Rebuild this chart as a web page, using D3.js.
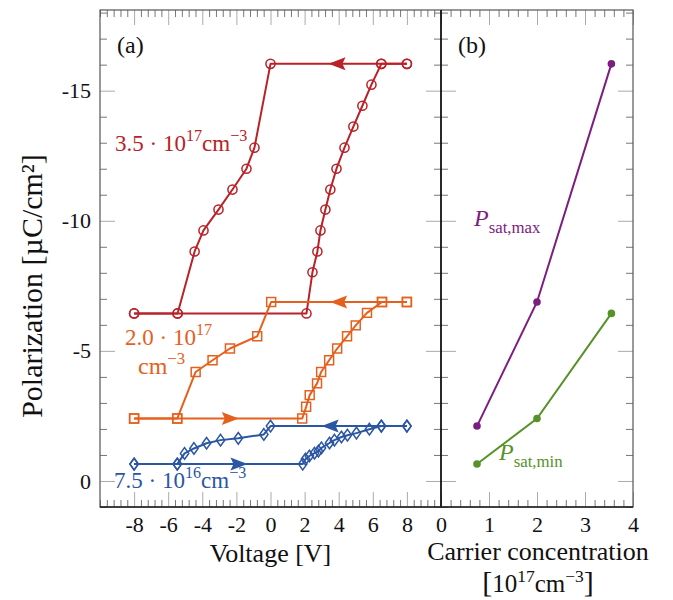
<!DOCTYPE html>
<html>
<head>
<meta charset="utf-8">
<script src="https://cdn.jsdelivr.net/npm/d3@7"></script>
<style>
  body { margin: 0; background: #fff; }
  svg text { font-family: "Liberation Serif", "DejaVu Serif", serif; }
</style>
</head>
<body>
<div class="container"></div>
<script>
const WIDTH = 673;
const HEIGHT = 600;

// ---- data ----
// 3.5e17 cm^-3 loop (circles)
const redUpV   = [-8, -5.45, 2.11, 2.46, 2.75, 2.93, 3.22, 3.51, 3.87, 4.34, 4.86, 5.39, 5.92, 6.5, 8];
const redUpP   = [-6.44, -6.44, -6.44, -8.02, -8.82, -9.63, -10.43, -11.2, -12.0, -12.81, -13.62, -14.42, -15.23, -16.03, -16.03];
const redDownV = [8, 6.5, 0, -0.94, -1.41, -2.23, -3.05, -3.93, -4.45, -5.45, -8];
const redDownP = [-16.03, -16.03, -16.03, -12.81, -12.0, -11.2, -10.43, -9.63, -8.82, -6.44, -6.44];

// 2.0e17 cm^-3 loop (squares)
const orangeUpV   = [-8, -5.47, 1.86, 2.09, 2.30, 2.73, 2.97, 3.44, 3.91, 4.49, 5.0, 5.66, 6.54, 8];
const orangeUpP   = [-2.40, -2.40, -2.40, -2.85, -3.30, -3.75, -4.19, -4.64, -5.09, -5.56, -5.98, -6.46, -6.88, -6.88];
const orangeDownV = [8, 6.54, 0.04, -0.78, -2.38, -3.4, -4.39, -5.47, -8];
const orangeDownP = [-6.88, -6.88, -6.88, -5.56, -5.09, -4.64, -4.19, -2.40, -2.40];

// 7.5e16 cm^-3 loop (diamonds)
const blueUpV   = [-8, -5.47, 1.89, 2.05, 2.28, 2.58, 2.81, 2.99, 3.46, 3.75, 4.16, 4.51, 5.04, 5.8, 6.5, 8];
const blueUpP   = [-0.65, -0.65, -0.65, -0.84, -0.96, -1.07, -1.15, -1.27, -1.46, -1.57, -1.69, -1.76, -1.84, -1.99, -2.11, -2.11];
const blueDownV = [8, 6.5, 0, -0.39, -1.89, -2.93, -3.75, -4.49, -5.04, -5.47, -8];
const blueDownP = [-2.11, -2.11, -2.11, -1.79, -1.64, -1.57, -1.45, -1.25, -1.06, -0.65, -0.65];

// direction arrows: tip voltage, polarization, direction
const arrowV   = [3.4, 3.5, 3.0, -1.86, -1.35];
const arrowP   = [-16.03, -6.88, -2.11, -2.40, -0.65];
const arrowDir = [-1, -1, -1, 1, 1];
const arrowSer = ["red", "orange", "blue", "orange", "blue"];

// panel (b)
const conc = [0.75, 2.0, 3.55];
const pSatMax = [-2.11, -6.88, -16.03];
const pSatMin = [-0.65, -2.40, -6.44];

// ticks
const voltTicks = [-8, -6, -4, -2, 0, 2, 4, 6, 8];
const concTicks = [0, 1, 2, 3, 4];
const polTicks = [0, -5, -10, -15];

const COLORS = { red: "#b82228", orange: "#e6601d", blue: "#2b56a3", purple: "#7d1d80", green: "#569228" };

// ---- layout ----
const LEFT = 100, MID = 441, RIGHT = 633, TOP = 10, BOTTOM = 507;

var translate = function(x, y){ return "translate(" + x + "," + y + ")"; };

var svg = d3.select('.container').append('svg')
  .attr('width', WIDTH).attr('height', HEIGHT);

var xV = d3.scaleLinear().domain([-10, 10]).range([LEFT, MID]);
var xC = d3.scaleLinear().domain([0, 4]).range([MID, RIGHT]);
var yP = d3.scaleLinear().domain([1, -18.1]).range([BOTTOM, TOP]);

var steps = function(a, b, s){
  var out = [];
  for (var i = 0; a + i * s <= b + 1e-9; i++) out.push(+(a + i * s).toFixed(4));
  return out;
};
var notIn = function(list){ return function(v){ return !list.some(function(m){ return Math.abs(m - v) < 1e-6; }); }; };

var voltMinor = steps(-10, 10, 0.4).filter(notIn(voltTicks));
var concMinor = steps(0, 4, 0.2).filter(notIn(concTicks));
var polMinor = steps(-18, 1, 1).filter(notIn(polTicks));

var MAJ = 15, MIN = 7;

var drawAxis = function(axis, tx, ty, values, size, pad, color){
  var g = svg.append('g').attr('transform', translate(tx, ty))
    .call(axis.tickValues(values).tickSize(-size).tickPadding(pad || 0)
      .tickFormat(pad ? function(d){ return String(d); } : function(){ return ""; }));
  g.select('.domain').remove();
  g.selectAll('.tick line').attr('stroke', color);
  g.selectAll('.tick text').attr('font-size', 22).attr('fill', '#111')
    .attr('font-family', '"Liberation Serif", serif');
  return g;
};

// panel (a) ticks
drawAxis(d3.axisBottom(xV), 0, BOTTOM, voltMinor, MIN, 0, '#777');
drawAxis(d3.axisBottom(xV), 0, BOTTOM, voltTicks, MAJ, 9, '#aaa');
drawAxis(d3.axisTop(xV), 0, TOP, voltMinor, MIN, 0, '#777');
drawAxis(d3.axisTop(xV), 0, TOP, voltTicks, MAJ, 0, '#aaa');
drawAxis(d3.axisLeft(yP), LEFT, 0, polMinor, MIN, 0, '#777');
drawAxis(d3.axisLeft(yP), LEFT, 0, polTicks, MAJ, 9, '#aaa');
drawAxis(d3.axisRight(yP), MID, 0, polMinor, MIN, 0, '#777');
drawAxis(d3.axisRight(yP), MID, 0, polTicks, MAJ, 0, '#aaa');

// panel (b) ticks
drawAxis(d3.axisBottom(xC), 0, BOTTOM, concMinor, MIN, 0, '#777');
drawAxis(d3.axisBottom(xC), 0, BOTTOM, concTicks, MAJ, 9, '#aaa');
drawAxis(d3.axisTop(xC), 0, TOP, concMinor, MIN, 0, '#777');
drawAxis(d3.axisTop(xC), 0, TOP, concTicks, MAJ, 0, '#aaa');
drawAxis(d3.axisLeft(yP), MID, 0, polMinor, MIN, 0, '#777').selectAll('.tick line').attr('x2', MIN);
drawAxis(d3.axisLeft(yP), MID, 0, polTicks, MAJ, 0, '#aaa').selectAll('.tick line').attr('x2', MAJ);
drawAxis(d3.axisRight(yP), RIGHT, 0, polMinor, MIN, 0, '#777');
drawAxis(d3.axisRight(yP), RIGHT, 0, polTicks, MAJ, 0, '#aaa');

// frames
svg.append('rect').attr('x', LEFT).attr('y', TOP).attr('width', RIGHT - LEFT).attr('height', BOTTOM - TOP)
  .attr('fill', 'none').attr('stroke', '#555').attr('stroke-width', 1.2);
svg.append('line').attr('x1', MID).attr('x2', MID).attr('y1', TOP).attr('y2', BOTTOM)
  .attr('stroke', '#111').attr('stroke-width', 1.8);
svg.append('line').attr('x1', LEFT).attr('x2', RIGHT).attr('y1', BOTTOM).attr('y2', BOTTOM)
  .attr('stroke', '#222').attr('stroke-width', 1.4);

// ---- panel (a) loops ----
var plot = svg.append('g');
var line = d3.line().x(function(d){ return xV(d[0]); }).y(function(d){ return yP(d[1]); });
var zip = function(a, b){ return a.map(function(v, i){ return [v, b[i]]; }); };

var series = [
  { key: 'red', up: zip(redUpV, redUpP), down: zip(redDownV, redDownP), mark: 'circle' },
  { key: 'orange', up: zip(orangeUpV, orangeUpP), down: zip(orangeDownV, orangeDownP), mark: 'square' },
  { key: 'blue', up: zip(blueUpV, blueUpP), down: zip(blueDownV, blueDownP), mark: 'diamond' }
];

var markPath = {
  circle: d3.symbol().type(d3.symbolCircle).size(66),
  square: d3.symbol().type(d3.symbolSquare).size(80),
  diamond: function(){ return "M0,-5.8L4.2,0L0,5.8L-4.2,0Z"; }
};

series.forEach(function(s){
  [s.up, s.down].forEach(function(pts){
    plot.append('path').attr('d', line(pts))
      .attr('fill', 'none').attr('stroke', COLORS[s.key]).attr('stroke-width', 2)
      .attr('stroke-linejoin', 'round');
  });
  plot.selectAll(null).data(s.up.concat(s.down)).enter().append('path')
    .attr('transform', function(d){ return translate(xV(d[0]), yP(d[1])); })
    .attr('d', markPath[s.mark])
    .attr('fill', 'none').attr('stroke', COLORS[s.key]).attr('stroke-width', 1.5);
});

// arrows
arrowV.forEach(function(v, i){
  var dir = arrowDir[i];
  plot.append('path')
    .attr('transform', translate(xV(v), yP(arrowP[i])) + " scale(" + (-dir) + ",1)")
    .attr('d', "M0,0L17,-6.5L14,0L17,6.5Z")
    .attr('fill', COLORS[arrowSer[i]]);
});

// ---- panel (b) ----
var lineC = d3.line().x(function(d){ return xC(d[0]); }).y(function(d){ return yP(d[1]); });
[[pSatMax, 'purple'], [pSatMin, 'green']].forEach(function(p){
  var pts = zip(conc, p[0]);
  svg.append('path').attr('d', lineC(pts)).attr('fill', 'none')
    .attr('stroke', COLORS[p[1]]).attr('stroke-width', 2);
  svg.selectAll(null).data(pts).enter().append('circle')
    .attr('cx', function(d){ return xC(d[0]); }).attr('cy', function(d){ return yP(d[1]); })
    .attr('r', 3.8).attr('fill', COLORS[p[1]]);
});

// ---- text ----
// parts: [text, kind] where kind is '', 'sup', 'sub', 'it', 'big'
var rich = function(x, y, parts, size, color, anchor){
  var t = svg.append('text').attr('x', x).attr('y', y).attr('font-size', size)
    .attr('fill', color).attr('text-anchor', anchor || 'start');
  var shift = 0;
  parts.forEach(function(p){
    var target = p[1] === 'sup' ? -0.42 * size : (p[1] === 'sub' ? 0.28 * size : 0);
    var ts = t.append('tspan').text(p[0]).attr('dy', target - shift);
    shift = target;
    if (p[1] === 'sup' || p[1] === 'sub') ts.attr('font-size', size * 0.7);
    if (p[1] === 'it') ts.attr('font-style', 'italic');
    if (p[1] === 'big') ts.attr('font-size', size * 1.2);
  });
  return t;
};

rich(117, 53, [["(a)", '']], 24, '#111');
rich(458, 53, [["(b)", '']], 24, '#111');

rich(115, 151, [["3.5 · 10", ''], ["17", 'sup'], ["cm", ''], ["−3", 'sup']], 23, COLORS.red);
rich(125, 345, [["2.0 · 10", ''], ["17", 'sup']], 23, COLORS.orange);
rich(138, 374, [["cm", ''], ["−3", 'sup']], 24, COLORS.orange);
rich(114, 488, [["7.5 · 10", ''], ["16", 'sup'], ["cm", ''], ["−3", 'sup']], 23, COLORS.blue);

rich(474, 226, [["P", 'it'], ["sat,max", 'sub']], 24, COLORS.purple);
rich(499, 460, [["P", 'it'], ["sat,min", 'sub']], 24, COLORS.green);

// axis titles
rich((LEFT + MID) / 2, 562, [["Voltage [V]", '']], 26, '#111', 'middle');
rich((MID + RIGHT) / 2 + 1, 560, [["Carrier concentration", '']], 26, '#111', 'middle');
rich((MID + RIGHT) / 2 + 1, 592, [["[", 'big'], ["10", ''], ["17", 'sup'], ["cm", ''], ["−3", 'sup'], ["]", 'big']], 25, '#111', 'middle');

svg.append('text')
  .attr('transform', translate(42, 286) + " rotate(-90)")
  .attr('text-anchor', 'middle').attr('font-size', 30).attr('fill', '#111')
  .text("Polarization [µC/cm²]");
</script>
</body>
</html>
